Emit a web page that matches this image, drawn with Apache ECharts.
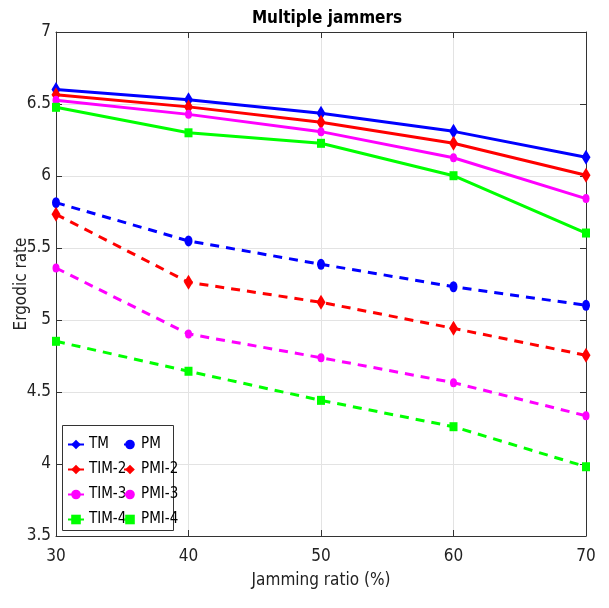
<!DOCTYPE html>
<html>
<head>
<meta charset="utf-8">
<script src="https://cdn.jsdelivr.net/npm/echarts@6/dist/echarts.min.js"></script>
<style>
  html, body { margin: 0; padding: 0; background: #fff; }
  #chart { width: 609px; height: 608px; }
</style>
</head>
<body>
<div id="chart"></div>
<script>
// Jamming ratio (%) on the x axis
const ratios = [30, 40, 50, 60, 70];
const yTicks = [3.5, 4, 4.5, 5, 5.5, 6, 6.5, 7];

// Ergodic rate per scheme
const TM    = [6.60, 6.53, 6.435, 6.31, 6.13];
const TIM2  = [6.565, 6.48, 6.373, 6.227, 6.005];
const TIM3  = [6.526, 6.428, 6.308, 6.127, 5.843];
const TIM4  = [6.477, 6.30, 6.227, 6.002, 5.604];
const PM    = [5.815, 5.549, 5.387, 5.231, 5.102];
const PMI2  = [5.734, 5.262, 5.123, 4.942, 4.755];
const PMI3  = [5.361, 4.903, 4.738, 4.565, 4.335];
const PMI4  = [4.852, 4.644, 4.442, 4.259, 3.981];

const FONT = '"DejaVu Sans Condensed", "Liberation Sans Narrow", "Liberation Sans", sans-serif';

function pairs(vals) {
  return ratios.map((r, i) => [r, vals[i]]);
}

function series(name, vals, color, symbol, size, dashed) {
  return {
    name: name,
    type: 'line',
    data: pairs(vals),
    symbol: symbol,
    symbolSize: size,
    showAllSymbol: true,
    lineStyle: { color: color, width: 3, type: dashed ? [9, 7] : 'solid' },
    itemStyle: { color: color },
    emphasis: { disabled: true },
    animation: false,
    z: 3
  };
}

const chart = echarts.init(document.getElementById('chart'), null, { renderer: 'canvas' });

const legendCommon = {
  orient: 'vertical',
  top: 432,
  itemHeight: 12,
  itemGap: 10,
  textStyle: { fontFamily: FONT, fontSize: 15, color: '#000' },
  selectedMode: false
};

chart.setOption({
  animation: false,
  title: {
    text: 'Multiple jammers',
    left: 322,
    textAlign: 'center',
    top: 5,
    textStyle: { fontFamily: FONT, fontSize: 17, fontWeight: 'bold', color: '#000' }
  },
  grid: { left: 56, right: 23, top: 32, bottom: 72, outerBoundsMode: 'none', containLabel: false },
  legend: [
    Object.assign({}, legendCommon, { left: 62, itemWidth: 16, data: ['TM', 'TIM-2', 'TIM-3', 'TIM-4'] }),
    Object.assign({}, legendCommon, { left: 118, itemWidth: 12, data: ['PM', 'PMI-2', 'PMI-3', 'PMI-4'] })
  ],
  graphic: [{
    type: 'rect',
    left: 62, top: 425,
    shape: { width: 111, height: 105 },
    style: { fill: '#fff', stroke: '#333', lineWidth: 1 },
    z: 1
  }],
  xAxis: [{
    type: 'value',
    min: 30, max: 70, interval: 10,
    name: 'Jamming ratio (%)',
    nameLocation: 'middle',
    nameGap: 36,
    nameMoveOverlap: false,
    nameTextStyle: { fontFamily: FONT, fontSize: 17, color: '#222' },
    axisLine: { show: true, lineStyle: { color: '#333', width: 1 } },
    axisTick: { show: true, inside: true, length: 6, lineStyle: { color: '#333' } },
    axisLabel: { fontFamily: FONT, fontSize: 17, color: '#222', margin: 12,
                 formatter: v => String(v) },
    splitLine: { show: true, lineStyle: { color: '#e3e3e3', width: 1 } }
  }, {
    type: 'value', position: 'top',
    min: 30, max: 70, interval: 10,
    axisLine: { show: true, lineStyle: { color: '#333', width: 1 } },
    axisTick: { show: true, inside: true, length: 6, lineStyle: { color: '#333' } },
    axisLabel: { show: false },
    splitLine: { show: false }
  }],
  yAxis: [{
    type: 'value',
    min: 3.5, max: 7, interval: 0.5,
    name: 'Ergodic rate',
    nameLocation: 'middle',
    nameGap: 26,
    nameMoveOverlap: false,
    nameRotate: 90,
    nameTextStyle: { fontFamily: FONT, fontSize: 17, color: '#222' },
    axisLine: { show: true, lineStyle: { color: '#333', width: 1 } },
    axisTick: { show: true, inside: true, length: 6, lineStyle: { color: '#333' } },
    axisLabel: { fontFamily: FONT, fontSize: 17, color: '#222', margin: 5,
                 formatter: v => yTicks.includes(v) ? String(v) : '' },
    splitLine: { show: true, lineStyle: { color: '#e3e3e3', width: 1 } }
  }, {
    type: 'value', position: 'right',
    min: 3.5, max: 7, interval: 0.5,
    axisLine: { show: true, lineStyle: { color: '#333', width: 1 } },
    axisTick: { show: true, inside: true, length: 6, lineStyle: { color: '#333' } },
    axisLabel: { show: false },
    splitLine: { show: false }
  }],
  series: [
    series('TM',    TM,   '#0000ff', 'diamond', [9, 15], false),
    series('PM',    PM,   '#0000ff', 'circle',  [8, 11], true),
    series('TIM-2', TIM2, '#ff0000', 'diamond', [9, 15], false),
    series('PMI-2', PMI2, '#ff0000', 'diamond', [9, 15], true),
    series('TIM-3', TIM3, '#ff00ff', 'circle',  [7, 9],  false),
    series('PMI-3', PMI3, '#ff00ff', 'circle',  [7, 9],  true),
    series('TIM-4', TIM4, '#00ff00', 'rect',    [8, 9],  false),
    series('PMI-4', PMI4, '#00ff00', 'rect',    [8, 9],  true)
  ]
});
</script>
</body>
</html>
